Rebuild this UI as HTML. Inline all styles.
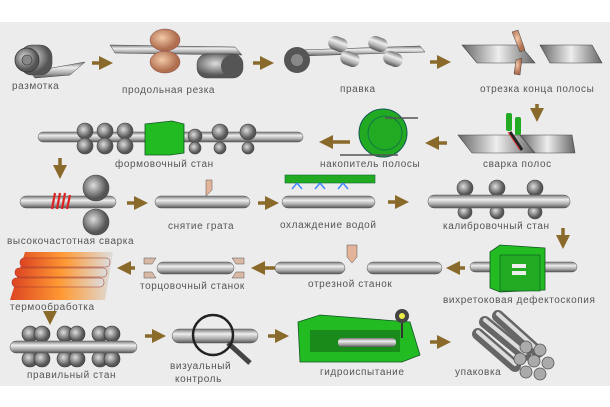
<!DOCTYPE html>
<html><head><meta charset="utf-8"><style>
body{margin:0;background:#fff}
svg{display:block}
text{font-family:"Liberation Sans","DejaVu Sans",sans-serif;font-size:10px;fill:#555;letter-spacing:0.6px}
</style></head><body>
<svg width="610" height="407" viewBox="0 0 610 407" xmlns="http://www.w3.org/2000/svg">
<defs>
<linearGradient id="m" x1="0" y1="0" x2="0" y2="1"><stop offset="0" stop-color="#777"/><stop offset=".35" stop-color="#eee"/><stop offset=".7" stop-color="#aaa"/><stop offset="1" stop-color="#555"/></linearGradient>
<linearGradient id="mh" x1="0" y1="0" x2="1" y2="0"><stop offset="0" stop-color="#666"/><stop offset=".5" stop-color="#eee"/><stop offset="1" stop-color="#666"/></linearGradient>
<radialGradient id="r" cx=".4" cy=".4"><stop offset="0" stop-color="#ddd"/><stop offset="1" stop-color="#555"/></radialGradient>
<radialGradient id="cu" cx=".4" cy=".4"><stop offset="0" stop-color="#f3c9a8"/><stop offset="1" stop-color="#b07050"/></radialGradient>
<linearGradient id="hot" x1="0" y1="0" x2="1" y2="0"><stop offset="0" stop-color="#d42"/><stop offset=".5" stop-color="#f93"/><stop offset="1" stop-color="#ddd"/></linearGradient>
<marker id="a" markerWidth="4" markerHeight="4" refX="2" refY="2" orient="auto"><path d="M0,0L4,2L0,4z" fill="#8a6a2a"/></marker>
<g id="ar"><path d="M0,0H14" stroke="#8a6a2a" stroke-width="3.5" marker-end="url(#a)"/></g>
</defs>
<rect x="0" y="22" width="610" height="364" fill="#ececec"/>
<g>
<path d="M30,72 L85,62 L70,75 L35,78z" fill="url(#m)" stroke="#444" stroke-width=".5"/>
<rect x="20" y="45" width="32" height="30" rx="12" fill="url(#r)" stroke="#444" stroke-width=".6"/>
<circle cx="27" cy="60" r="12" fill="url(#r)" stroke="#333" stroke-width=".8"/><circle cx="27" cy="60" r="5" fill="#888" stroke="#333" stroke-width=".6"/>
<text x="12" y="89">размотка</text>
<use href="#ar" x="92" y="63"/>
<path d="M110,45 L235,47 L242,55 L115,53z" fill="url(#m)" stroke="#444" stroke-width=".5"/>
<ellipse cx="165" cy="40" rx="15" ry="11" fill="url(#cu)" stroke="#844" stroke-width=".5"/>
<ellipse cx="165" cy="62" rx="15" ry="11" fill="url(#cu)" stroke="#844" stroke-width=".5"/>
<rect x="197" y="54" width="46" height="24" rx="10" fill="url(#r)" stroke="#444" stroke-width=".5"/>
<circle cx="232" cy="66" r="11" fill="#555"/>
<text x="122" y="93">продольная резка</text>
<use href="#ar" x="253" y="63"/>
<path d="M300,50 L420,46 L425,52 L300,56z" fill="url(#m)" stroke="#444" stroke-width=".5"/>
<circle cx="297" cy="60" r="13" fill="#555"/><circle cx="297" cy="60" r="6" fill="#888"/>
<rect x="328" y="37" width="20" height="14" rx="7" fill="url(#m)" transform="rotate(20 338 44)"/>
<rect x="340" y="52" width="20" height="14" rx="7" fill="url(#m)" transform="rotate(20 350 59)"/>
<rect x="368" y="37" width="20" height="14" rx="7" fill="url(#m)" transform="rotate(20 378 44)"/>
<rect x="383" y="52" width="20" height="14" rx="7" fill="url(#m)" transform="rotate(20 393 59)"/>
<text x="340" y="92">правка</text>
<use href="#ar" x="430" y="62"/>
<path d="M462,45 L520,45 L535,63 L477,63z" fill="url(#mh)" stroke="#444" stroke-width=".6"/>
<path d="M540,45 L592,45 L602,63 L550,63z" fill="url(#mh)" stroke="#444" stroke-width=".6"/>
<path d="M512,32 L518,30 L525,50 L520,52z" fill="url(#cu)" stroke="#444" stroke-width=".5"/>
<path d="M516,60 L522,58 L520,75 L514,74z" fill="url(#cu)" stroke="#444" stroke-width=".5"/>
<text x="480" y="92">отрезка конца полосы</text>
<path d="M537,104V115" stroke="#8a6a2a" stroke-width="3.5" marker-end="url(#a)"/>
<path d="M458,135 L520,135 L535,153 L472,153z" fill="url(#mh)" stroke="#444" stroke-width=".6"/>
<path d="M520,135 L572,135 L575,153 L535,153z" fill="url(#mh)" stroke="#444" stroke-width=".6"/>
<path d="M510,132 L522,150" stroke="#222" stroke-width="3"/><path d="M508,132 L520,150" stroke="#d33" stroke-width="1"/>
<rect x="506" y="113" width="6" height="18" rx="2" fill="#2a2"/><rect x="515" y="117" width="6" height="18" rx="2" fill="#2a2"/>
<text x="483" y="167">сварка полос</text>
<path d="M447,143H432" stroke="#8a6a2a" stroke-width="3.5" marker-end="url(#a)"/>
<circle cx="383" cy="133" r="24" fill="#2a2" stroke="#155" stroke-width="1"/>
<circle cx="385" cy="133" r="17" fill="none" stroke="#174" stroke-width="1"/>
<path d="M385,118H418 M340,155H398" stroke="#555" stroke-width="1.5"/>
<text x="320" y="167">накопитель полосы</text>
<path d="M350,142H326" stroke="#8a6a2a" stroke-width="3.5" marker-end="url(#a)"/>
<rect x="38" y="132" width="265" height="10" rx="5" fill="url(#m)" stroke="#555" stroke-width=".5"/>
<g fill="url(#r)" stroke="#444" stroke-width=".6">
<circle cx="85" cy="131" r="8"/><circle cx="105" cy="131" r="8"/><circle cx="125" cy="131" r="8"/>
<circle cx="85" cy="146" r="8"/><circle cx="105" cy="146" r="8"/><circle cx="125" cy="146" r="8"/>
<circle cx="195" cy="136" r="7"/><circle cx="195" cy="148" r="6"/><circle cx="220" cy="132" r="8"/><circle cx="220" cy="148" r="6"/><circle cx="248" cy="132" r="8"/><circle cx="248" cy="148" r="6"/></g>
<path d="M145,124 L172,121 L184,124 L184,153 L170,155 L145,155z" fill="#2b2" stroke="#152" stroke-width=".8"/>
<text x="115" y="167">формовочный стан</text>
<path d="M60,158V172" stroke="#8a6a2a" stroke-width="3.5" marker-end="url(#a)"/>
<rect x="20" y="196" width="96" height="12" rx="6" fill="url(#m)" stroke="#555" stroke-width=".5"/>
<circle cx="96" cy="188" r="13" fill="url(#r)" stroke="#444" stroke-width=".6"/>
<circle cx="96" cy="222" r="13" fill="url(#r)" stroke="#444" stroke-width=".6"/>
<path d="M55,193l-3,16M60,193l-3,16M65,193l-3,16M70,195l-3,14" stroke="#d22" stroke-width="2.2"/>
<text x="7" y="244">высокочастотная сварка</text>
<use href="#ar" x="127" y="203"/>
<rect x="155" y="196" width="95" height="12" rx="6" fill="url(#m)" stroke="#555" stroke-width=".5"/>
<path d="M206,180h6v10l-6,6z" fill="#e3b49a" stroke="#555" stroke-width=".5"/>
<text x="168" y="229">снятие грата</text>
<use href="#ar" x="258" y="203"/>
<rect x="285" y="175" width="90" height="8" fill="#2a2" stroke="#163" stroke-width=".6"/>
<path d="M297,183l-5,6M297,183l5,6M320,183l-5,6M320,183l5,6M343,183l-5,6M343,183l5,6" stroke="#48f" stroke-width="1.5"/>
<rect x="282" y="196" width="93" height="12" rx="6" fill="url(#m)" stroke="#555" stroke-width=".5"/>
<text x="280" y="228">охлаждение водой</text>
<use href="#ar" x="388" y="202"/>
<g fill="url(#r)" stroke="#444" stroke-width=".6">
<circle cx="465" cy="188" r="8"/><circle cx="497" cy="188" r="8"/><circle cx="535" cy="188" r="8"/>
<circle cx="465" cy="212" r="7"/><circle cx="497" cy="212" r="7"/><circle cx="535" cy="212" r="7"/></g>
<rect x="428" y="195" width="142" height="13" rx="6" fill="url(#m)" stroke="#555" stroke-width=".5"/>
<text x="443" y="229">калибровочный стан</text>
<path d="M563,228V242" stroke="#8a6a2a" stroke-width="3.5" marker-end="url(#a)"/>
<rect x="470" y="262" width="107" height="10" rx="5" fill="url(#m)" stroke="#555" stroke-width=".5"/>
<path d="M490,252 L500,245 L545,248 L545,290 L500,292 L490,288z" fill="#2b2" stroke="#152" stroke-width=".8"/>
<rect x="500" y="255" width="40" height="36" fill="#2a2" stroke="#152" stroke-width=".6"/>
<rect x="512" y="264" width="14" height="4" fill="#eee"/><rect x="512" y="271" width="14" height="4" fill="#eee"/>
<text x="443" y="303">вихретоковая дефектоскопия</text>
<path d="M465,268H453" stroke="#8a6a2a" stroke-width="3.5" marker-end="url(#a)"/>
<rect x="275" y="262" width="70" height="12" rx="6" fill="url(#m)" stroke="#555" stroke-width=".5"/>
<rect x="367" y="262" width="75" height="12" rx="6" fill="url(#m)" stroke="#555" stroke-width=".5"/>
<path d="M347,245h10v12l-5,6l-5,-6z" fill="#e3b49a" stroke="#555" stroke-width=".5"/>
<text x="308" y="287">отрезной станок</text>
<path d="M275,268H258" stroke="#8a6a2a" stroke-width="3.5" marker-end="url(#a)"/>
<rect x="157" y="262" width="77" height="12" rx="6" fill="url(#m)" stroke="#555" stroke-width=".5"/>
<g fill="#d9b9a5" stroke="#555" stroke-width=".5"><path d="M144,258h12l-4,6h-8z"/><path d="M144,278h12l-4,-6h-8z"/><path d="M244,258h-12l4,6h8z"/><path d="M244,278h-12l4,-6h8z"/></g>
<text x="140" y="289">торцовочный станок</text>
<path d="M135,268H124" stroke="#8a6a2a" stroke-width="3.5" marker-end="url(#a)"/>
<path d="M25,252h88l-8,48h-95z" fill="url(#hot)"/>
<rect x="20" y="258" width="90" height="9" rx="4" fill="url(#hot)" stroke="#933" stroke-width=".5"/>
<rect x="15" y="268" width="92" height="9" rx="4" fill="url(#hot)" stroke="#933" stroke-width=".5"/>
<rect x="12" y="278" width="92" height="9" rx="4" fill="url(#hot)" stroke="#933" stroke-width=".5"/>
<text x="10" y="310">термообработка</text>
<path d="M50,312V318" stroke="#8a6a2a" stroke-width="3.5" marker-end="url(#a)"/>
<g fill="url(#r)" stroke="#333" stroke-width=".6">
<circle cx="30" cy="334" r="8"/><circle cx="42" cy="334" r="8"/><circle cx="65" cy="334" r="8"/><circle cx="77" cy="334" r="8"/><circle cx="100" cy="334" r="8"/><circle cx="112" cy="334" r="8"/>
<circle cx="30" cy="359" r="8"/><circle cx="42" cy="359" r="8"/><circle cx="65" cy="359" r="8"/><circle cx="77" cy="359" r="8"/><circle cx="100" cy="359" r="8"/><circle cx="112" cy="359" r="8"/></g>
<rect x="10" y="341" width="127" height="12" rx="6" fill="url(#m)" stroke="#555" stroke-width=".5"/>
<text x="27" y="378">правильный стан</text>
<use href="#ar" x="145" y="336"/>
<rect x="172" y="329" width="86" height="14" rx="7" fill="url(#m)" stroke="#555" stroke-width=".5"/>
<path d="M228,343L250,363" stroke="#444" stroke-width="5"/>
<circle cx="213" cy="335" r="20" fill="none" stroke="#222" stroke-width="2.5"/>
<text x="170" y="369">визуальный</text><text x="175" y="382">контроль</text>
<use href="#ar" x="268" y="336"/>
<path d="M298,322 L320,315 L410,322 L420,355 L402,362 L300,362z" fill="#2b2" stroke="#152" stroke-width=".8"/>
<rect x="310" y="330" width="90" height="22" fill="#1a8a1a"/>
<rect x="338" y="338" width="58" height="9" rx="4" fill="url(#m)"/>
<path d="M402,320V338" stroke="#333" stroke-width="2"/>
<circle cx="402" cy="316" r="7" fill="#444"/><circle cx="402" cy="316" r="3" fill="#ee4"/>
<text x="320" y="375">гидроиспытание</text>
<use href="#ar" x="430" y="342"/>
<g stroke-linecap="round">
<path d="M485,322L525,355M498,316L538,352M478,334L515,366" stroke="#666" stroke-width="12"/>
<path d="M485,320L525,353M498,314L538,350M478,332L515,364" stroke="#ddd" stroke-width="4"/>
</g>
<g fill="#aaa" stroke="#555" stroke-width=".8">
<circle cx="526" cy="347" r="6"/><circle cx="540" cy="350" r="6"/><circle cx="520" cy="359" r="6"/><circle cx="534" cy="361" r="6"/><circle cx="548" cy="363" r="6"/><circle cx="526" cy="372" r="6"/><circle cx="540" cy="374" r="6"/></g>
<text x="455" y="375">упаковка</text>
</g>
</svg>
</body></html>
